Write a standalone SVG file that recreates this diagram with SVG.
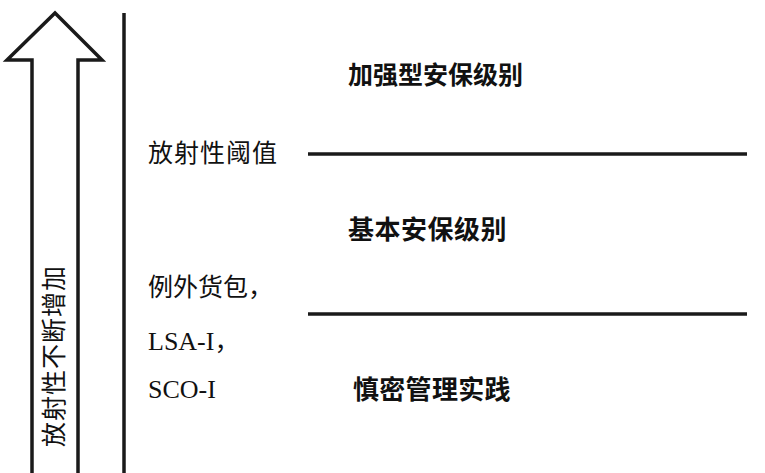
<svg xmlns="http://www.w3.org/2000/svg" width="765" height="473" viewBox="0 0 765 473">
<style>
.ln{stroke:#1a1a1a;stroke-width:3.5;fill:none}
.cjk{font-family:"Noto Sans CJK SC","Noto Sans CJK JP",sans-serif;font-size:25px;fill:#111}
.b{font-weight:bold;font-size:26px}
.lat{font-family:"Liberation Serif","Noto Sans CJK SC",serif;font-size:26px;fill:#111}
</style>
<rect width="765" height="473" fill="#fff"/>
<g id="arrow">
<path class="ln" d="M32,476 L32,60 L7,60 L55,13 L102,60 L78,60 L78,476" stroke-linejoin="miter"/>
<text class="cjk" x="0" y="0" font-size="22" text-anchor="middle" letter-spacing="1" transform="translate(63,356) rotate(-90)">放射性不断增加</text>
</g>
<g id="connectors">
<line class="ln" x1="124" y1="13" x2="124" y2="473"/>
<line class="ln" x1="308" y1="154" x2="747" y2="154"/>
<line class="ln" x1="308" y1="314" x2="747" y2="314"/>
</g>
<g id="level-enhanced">
<text class="cjk b" x="348" y="84" style="font-size:25px">加强型安保级别</text>
</g>
<g id="threshold">
<text class="cjk" x="148" y="162" letter-spacing="1">放射性阈值</text>
</g>
<g id="level-basic">
<text class="cjk b" x="348" y="239" letter-spacing="0.5">基本安保级别</text>
</g>
<g id="exempt">
<text class="cjk" x="148" y="296">例外货包，</text>
<text class="lat" x="148" y="350">LSA-I<tspan font-family="Noto Sans CJK SC" font-size="25">，</tspan></text>
<text class="lat" x="148" y="398">SCO-I</text>
</g>
<g id="level-prudent">
<text class="cjk b" x="353" y="399" letter-spacing="0.3">慎密管理实践</text>
</g>
</svg>
